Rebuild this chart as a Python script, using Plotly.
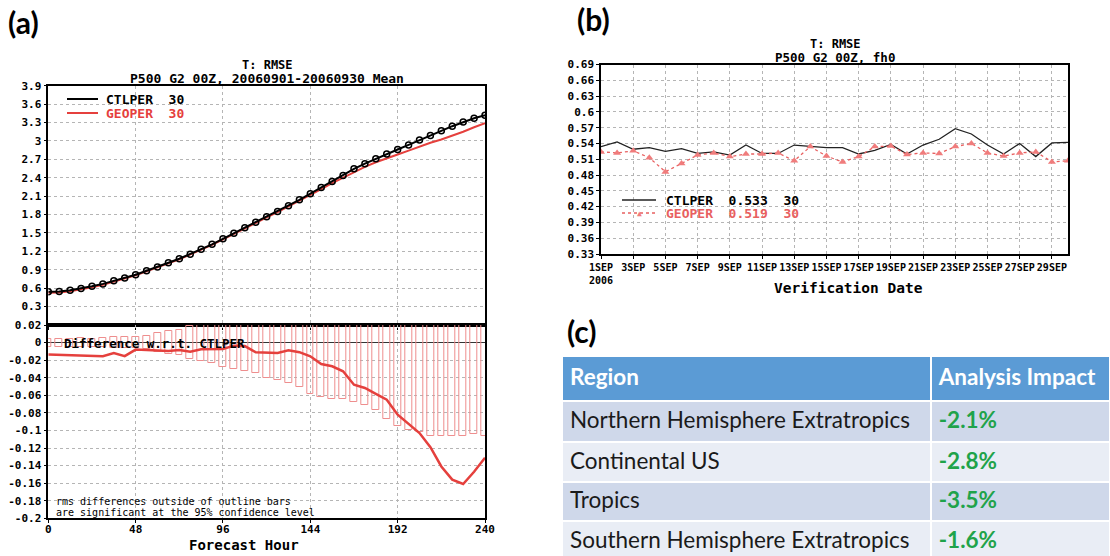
import plotly.graph_objects as go

W, H = 1110, 556


def px(x):
    return x / W


def py(y):
    return 1 - y / H


# ---------------- data: panel (a) ----------------
hours = list(range(0, 241, 6))
ctlper_rmse = [0.540, 0.545, 0.565, 0.595, 0.630, 0.670, 0.720, 0.765, 0.820, 0.885,
               0.945, 1.015, 1.080, 1.155, 1.235, 1.315, 1.405, 1.495, 1.585, 1.675,
               1.765, 1.850, 1.945, 2.040, 2.140, 2.240, 2.340, 2.435, 2.545, 2.630,
               2.710, 2.785, 2.860, 2.935, 3.015, 3.090, 3.165, 3.240, 3.310, 3.370, 3.420]
geoper_rmse = [0.526, 0.531, 0.551, 0.580, 0.615, 0.655, 0.708, 0.750, 0.812, 0.877,
               0.937, 1.006, 1.072, 1.145, 1.228, 1.308, 1.398, 1.492, 1.581, 1.664,
               1.753, 1.838, 1.936, 2.029, 2.124, 2.216, 2.313, 2.402, 2.497, 2.578,
               2.652, 2.720, 2.778, 2.842, 2.912, 2.971, 3.024, 3.084, 3.149, 3.223, 3.289]
rmse_diff = [-0.0137, -0.0140, -0.0145, -0.0150, -0.0155, -0.0155, -0.0120, -0.0155, -0.0080, -0.0085,
             -0.0085, -0.0095, -0.0085, -0.0105, -0.0075, -0.0070, -0.0072, -0.0035, -0.0040, -0.0110,
             -0.0118, -0.0118, -0.0088, -0.0109, -0.0156, -0.0244, -0.0270, -0.0327, -0.0480, -0.0517,
             -0.0585, -0.0650, -0.0820, -0.0930, -0.1030, -0.1190, -0.1410, -0.1560, -0.1610, -0.1470, -0.1310]
ci_half = [0.0045, 0.0045, 0.0045, 0.0050, 0.0045, 0.0050, 0.0065, 0.0065, 0.0060, 0.0075,
           0.0110, 0.0130, 0.0140, 0.0185, 0.0210, 0.0235, 0.0280, 0.0300, 0.0320, 0.0350,
           0.0400, 0.0430, 0.0460, 0.0500, 0.0580, 0.0620, 0.0640, 0.0640, 0.0680, 0.0710,
           0.0770, 0.0870, 0.0950, 0.0990, 0.1020, 0.1060, 0.1060, 0.1060, 0.1060, 0.1040, 0.1060]

a_top_ticks = [0.3, 0.6, 0.9, 1.2, 1.5, 1.8, 2.1, 2.4, 2.7, 3.0, 3.3, 3.6, 3.9]
a_top_labels = ["0.3", "0.6", "0.9", "1.2", "1.5", "1.8", "2.1", "2.4", "2.7", "3", "3.3", "3.6", "3.9"]
a_bot_ticks = [0.02, 0, -0.02, -0.04, -0.06, -0.08, -0.1, -0.12, -0.14, -0.16, -0.18, -0.2]
a_bot_labels = ["0.02", "0", "-0.02", "-0.04", "-0.06", "-0.08", "-0.1", "-0.12", "-0.14", "-0.16", "-0.18", "-0.2"]
fh_ticks = [0, 48, 96, 144, 192, 240]

# ---------------- data: panel (b) ----------------
days = list(range(1, 31))
ctlper_fh0 = [0.534, 0.543, 0.529, 0.532, 0.525, 0.530, 0.521, 0.524, 0.518, 0.537,
              0.521, 0.521, 0.537, 0.535, 0.532, 0.532, 0.520, 0.527, 0.538, 0.520,
              0.537, 0.548, 0.568, 0.558, 0.537, 0.520, 0.540, 0.515, 0.541, 0.542]
geoper_fh0 = [0.524, 0.522, 0.526, 0.513, 0.486, 0.502, 0.518, 0.522, 0.515, 0.520,
              0.520, 0.522, 0.507, 0.534, 0.516, 0.505, 0.515, 0.534, 0.535, 0.519,
              0.522, 0.521, 0.534, 0.540, 0.522, 0.516, 0.522, 0.524, 0.505, 0.507]
b_day_ticks = list(range(1, 30, 2))
b_day_labels = [f"{d}SEP" for d in b_day_ticks]
b_y_ticks = [0.33, 0.36, 0.39, 0.42, 0.45, 0.48, 0.51, 0.54, 0.57, 0.60, 0.63, 0.66, 0.69]
b_y_labels = ["0.33", "0.36", "0.39", "0.42", "0.45", "0.48", "0.51", "0.54", "0.57", "0.6", "0.63", "0.66", "0.69"]

# ---------------- data: panel (c) ----------------
table_header = ["Region", "Analysis Impact"]
regions = ["Northern Hemisphere Extratropics", "Continental US", "Tropics",
           "Southern Hemisphere Extratropics"]
impacts = ["-2.1%", "-2.8%", "-3.5%", "-1.6%"]

MONO = "DejaVu Sans Mono"
RED = "#E5403D"
BAR_RED = "#EE8E8E"
GRID = "#b5b5b5"
GREEN = "#1FA34A"

fig = go.Figure()

# panel (a) top
fig.add_trace(go.Scatter(x=hours, y=geoper_rmse, mode="lines",
                         line=dict(color=RED, width=2), xaxis="x", yaxis="y"))
fig.add_trace(go.Scatter(x=hours, y=ctlper_rmse, mode="lines+markers",
                         line=dict(color="black", width=2),
                         marker=dict(symbol="circle-open", size=6, color="black",
                                     line=dict(width=1.5)),
                         xaxis="x", yaxis="y"))
# panel (a) bottom
fig.add_trace(go.Bar(x=hours, y=[2 * c for c in ci_half], base=[-c for c in ci_half],
                     width=3.8, marker=dict(color="rgba(0,0,0,0)",
                                            line=dict(color=BAR_RED, width=1)),
                     xaxis="x2", yaxis="y2"))
fig.add_trace(go.Scatter(x=hours, y=rmse_diff, mode="lines",
                         line=dict(color=RED, width=2.5), xaxis="x2", yaxis="y2"))
# panel (b)
fig.add_trace(go.Scatter(x=days, y=ctlper_fh0, mode="lines",
                         line=dict(color="#222", width=1.3), xaxis="x3", yaxis="y3"))
fig.add_trace(go.Scatter(x=days, y=geoper_fh0, mode="lines+markers",
                         line=dict(color="#E86060", width=1.3, dash="dot"),
                         marker=dict(symbol="triangle-up", size=7, color="#F07C7C"),
                         xaxis="x3", yaxis="y3"))

# panel (c) table: cells as a heatmap on a pixel-unit axis pair
col_edges = [0, 368, 547]
row_edges = [0, 45, 86, 126, 165, 206]
n_rows = len(regions) + 1
z = [[0, 0]] + [[1 + (i % 2), 1 + (i % 2)] for i in range(len(regions))]
fig.add_trace(go.Heatmap(x=col_edges, y=row_edges, z=z, zmin=0, zmax=2,
                         colorscale=[[0, "#5B9BD5"], [0.5, "#CFD8EA"], [1, "#E9EDF5"]],
                         showscale=False, xgap=2, ygap=2, hoverinfo="skip",
                         xaxis="x4", yaxis="y4"))
row_mid = [(row_edges[i] + row_edges[i + 1]) / 2 + 1 for i in range(n_rows)]
pad = 8
col1_text = ["<b>" + table_header[0] + "</b>"] + regions
col2_text = ["<b>" + table_header[1] + "</b>"] + ["<b>" + v + "</b>" for v in impacts]
fig.add_trace(go.Scatter(x=[col_edges[0] + pad] * n_rows, y=row_mid, text=col1_text,
                         mode="text", textposition="middle right",
                         textfont=dict(family="Lato", size=22.5,
                                       color=["white"] + ["#1a1a1a"] * len(regions)),
                         hoverinfo="skip", xaxis="x4", yaxis="y4", cliponaxis=False))
fig.add_trace(go.Scatter(x=[col_edges[1] + pad] * n_rows, y=row_mid, text=col2_text,
                         mode="text", textposition="middle right",
                         textfont=dict(family="Lato", size=22.5,
                                       color=["white"] + [GREEN] * len(impacts)),
                         hoverinfo="skip", xaxis="x4", yaxis="y4", cliponaxis=False))

axis_common = dict(showline=True, mirror=True, linecolor="black", linewidth=1.5,
                   showgrid=True, gridcolor=GRID, griddash="dot", gridwidth=1,
                   zeroline=False, ticks="outside", ticklen=3, tickcolor="black",
                   automargin=False,
                   tickfont=dict(family=MONO, size=11, color="black", weight="bold"))

xa = [px(48.3), px(485)]
fig.update_layout(
    width=W, height=H, margin=dict(l=0, r=0, t=0, b=0, pad=0, autoexpand=False),
    paper_bgcolor="white", plot_bgcolor="white", showlegend=False,
    xaxis=dict(domain=xa, range=[0, 240], tickvals=fh_ticks, showticklabels=False,
               anchor="y", **axis_common),
    yaxis=dict(domain=[py(325), py(85.7)], range=[0, 3.9], tickvals=a_top_ticks,
               ticktext=a_top_labels, anchor="x", **axis_common),
    xaxis2=dict(domain=xa, range=[0, 240], tickvals=fh_ticks,
                ticktext=[str(t) for t in fh_ticks], anchor="y2",
                ticklabelstandoff=-3, **axis_common),
    yaxis2=dict(domain=[py(518.3), py(325)], range=[-0.2, 0.02], tickvals=a_bot_ticks,
                ticktext=a_bot_labels, anchor="x2", **axis_common),
    xaxis3=dict(domain=[px(601), px(1068)], range=[1, 30], tickvals=b_day_ticks,
                ticktext=b_day_labels, anchor="y3", tickangle=0, **axis_common),
    yaxis3=dict(domain=[py(254), py(64.5)], range=[0.33, 0.69], tickvals=b_y_ticks,
                ticktext=b_y_labels, anchor="x3", **axis_common),
    xaxis4=dict(domain=[px(562), 1], range=[0, 547], visible=False, anchor="y4",
                fixedrange=True, automargin=False),
    yaxis4=dict(domain=[0, py(356)], range=[200, 0], visible=False, anchor="x4",
                fixedrange=True, automargin=False),
    bargap=0,
)
fig.layout.xaxis3.tickfont.size = 10
fig.layout.yaxis2.zeroline = True
fig.layout.yaxis2.zerolinecolor = "#333"
fig.layout.yaxis2.zerolinewidth = 1.2

ann = []


def text(x, y, s, size=12, color="black", bold=True, xanchor="left", family=MONO):
    ann.append(dict(x=px(x), y=py(y), xref="paper", yref="paper", text=s, showarrow=False,
                    xanchor=xanchor, yanchor="middle",
                    font=dict(family=family, size=size, color=color,
                              weight="bold" if bold else "normal")))


# panel labels
text(6, 22, "(a)", size=30, family="Lato")
text(575, 19, "(b)", size=30, family="Lato")
text(565, 331, "(c)", size=30, family="Lato")

# panel (a) texts
text(267, 65, "T: RMSE", size=12, xanchor="center")
text(267, 78, "P500 G2 00Z, 20060901-20060930 Mean", size=13, xanchor="center")
text(104, 99, "CTLPER  30", size=13)
text(104, 113, "GEOPER  30", size=13, color=RED)
text(62, 343, "Difference w.r.t. CTLPER", size=12.5)
text(54, 501, "rms differences outside of outline bars", size=10, bold=False)
text(54, 512, "are significant at the 95% confidence level", size=10, bold=False)
text(244, 545, "Forecast Hour", size=14, xanchor="center")

# panel (b) texts
text(835, 44, "T: RMSE", size=12, xanchor="center")
text(835, 57, "P500 G2 00Z, fh0", size=12.5, xanchor="center")
text(664, 200, "CTLPER  0.533  30", size=13)
text(664, 213, "GEOPER  0.519  30", size=13, color="#E86060")
text(639, 213, "▲", size=8, color="#F07C7C", bold=False, xanchor="center")
text(601, 280, "2006", size=10, xanchor="center")
text(848, 288, "Verification Date", size=14.5, xanchor="center")

fig.update_layout(annotations=ann)

shapes = [
    dict(type="line", xref="paper", yref="paper", x0=px(67), x1=px(98), y0=py(99), y1=py(99),
         line=dict(color="black", width=2)),
    dict(type="line", xref="paper", yref="paper", x0=px(67), x1=px(98), y0=py(113), y1=py(113),
         line=dict(color=RED, width=2)),
    dict(type="line", xref="paper", yref="paper", x0=px(622), x1=px(656), y0=py(200), y1=py(200),
         line=dict(color="#222", width=1.3)),
    dict(type="line", xref="paper", yref="paper", x0=px(622), x1=px(656), y0=py(213), y1=py(213),
         line=dict(color="#E86060", width=1.3, dash="dot")),
]
fig.update_layout(shapes=shapes)

fig.write_html("out.html")
